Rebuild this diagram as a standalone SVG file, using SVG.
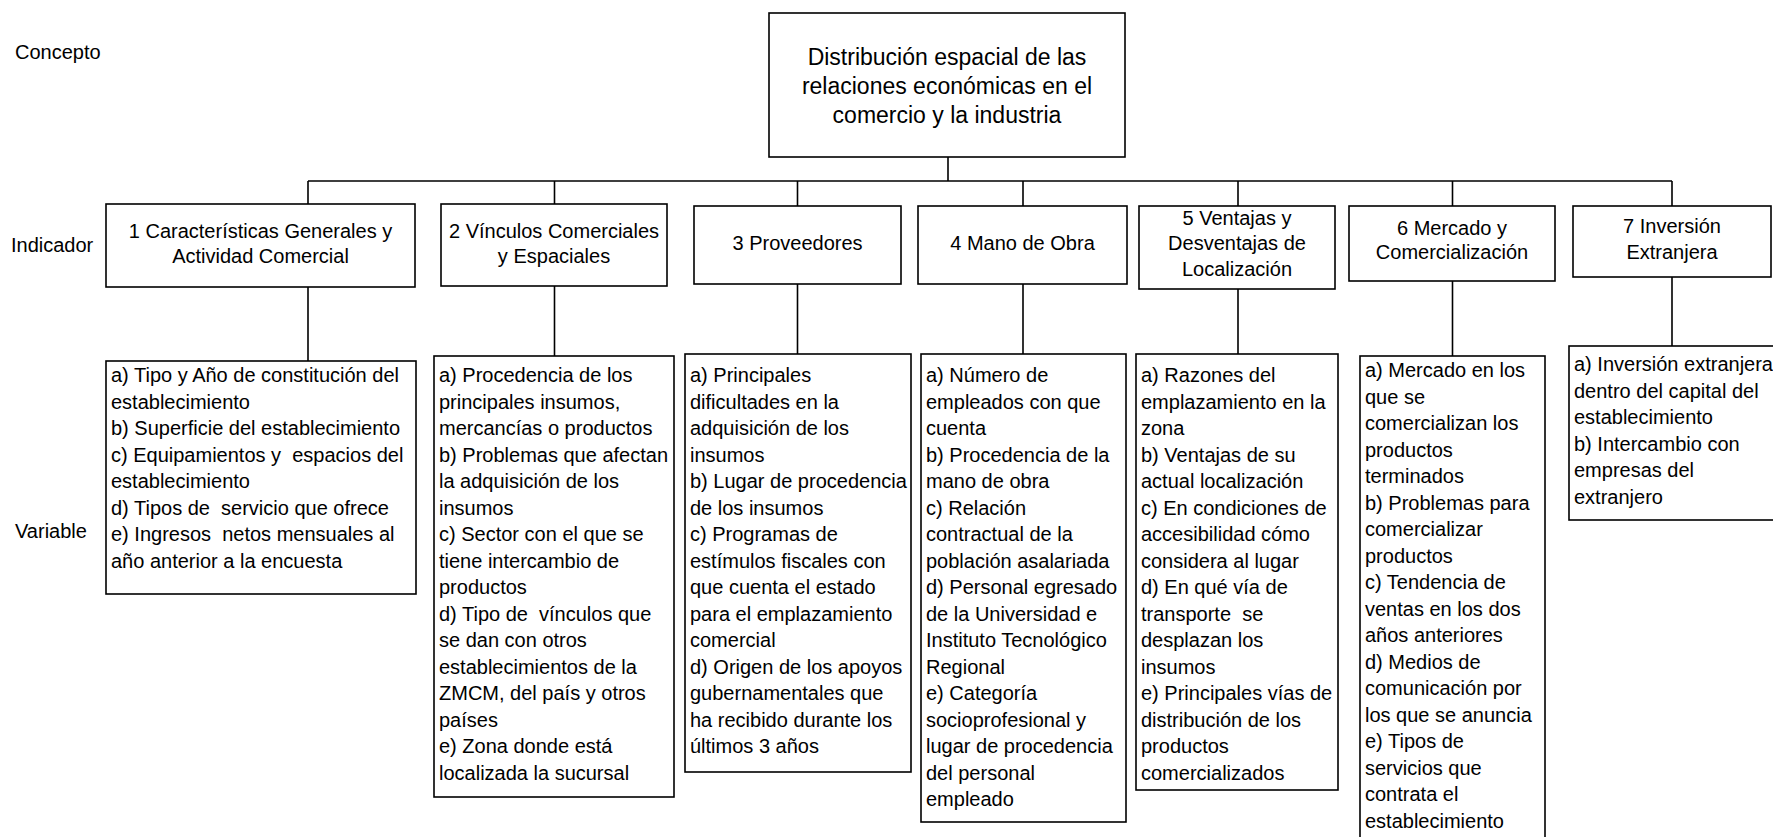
<svg xmlns="http://www.w3.org/2000/svg" width="1773" height="837" viewBox="0 0 1773 837">
<style>
text{font-family:"Liberation Sans",Arial,sans-serif;fill:#000}
.lab{font-size:20px}
.con{font-size:23px;text-anchor:middle}
.ind{font-size:20px;text-anchor:middle}
.var{font-size:20px}
.box{fill:#fff;stroke:#000;stroke-width:1.6}
.ln{stroke:#000;stroke-width:1.6;fill:none}
</style>
<rect width="1773" height="837" fill="#fff"/>
<g id="labels">
<text class="lab" x="15" y="59">Concepto</text>
<text class="lab" x="11" y="252">Indicador</text>
<text class="lab" x="15" y="538">Variable</text>
</g>
<g id="connectors">
<path class="ln" d="M948 157V181M308 181H1672"/>
<path class="ln" d="M308 181V204M554.5 181V204M797.5 181V206M1023 181V206M1238 181V206M1452.5 181V206M1672 181V206"/>
<path class="ln" d="M308 287V361M554.5 286V356M797.5 284V354M1023 284V354M1238 289V354M1452.5 281V356M1672 277V346"/>
</g>
<g id="concepto">
<rect class="box" x="769" y="13" width="356" height="144"/>
<text class="con" x="947"><tspan x="947" y="65">Distribución espacial de las</tspan><tspan x="947" y="94">relaciones económicas en el</tspan><tspan x="947" y="123">comercio y la industria</tspan></text>
</g>
<g id="ind1">
<rect class="box" x="106" y="204" width="309" height="83"/>
<text class="ind"><tspan x="260.5" y="238">1 Características Generales y</tspan><tspan x="260.5" y="263">Actividad Comercial</tspan></text>
</g>
<g id="ind2">
<rect class="box" x="441" y="204" width="226" height="82"/>
<text class="ind"><tspan x="554" y="238">2 Vínculos Comerciales</tspan><tspan x="554" y="263">y Espaciales</tspan></text>
</g>
<g id="ind3">
<rect class="box" x="694" y="206" width="207" height="78"/>
<text class="ind" x="797.5" y="250">3 Proveedores</text>
</g>
<g id="ind4">
<rect class="box" x="918" y="206" width="209" height="78"/>
<text class="ind" x="1022.5" y="250">4 Mano de Obra</text>
</g>
<g id="ind5">
<rect class="box" x="1139" y="206" width="196" height="83"/>
<text class="ind"><tspan x="1237" y="225">5 Ventajas y</tspan><tspan x="1237" y="250">Desventajas de</tspan><tspan x="1237" y="276">Localización</tspan></text>
</g>
<g id="ind6">
<rect class="box" x="1349" y="206" width="206" height="75"/>
<text class="ind"><tspan x="1452" y="235">6 Mercado y</tspan><tspan x="1452" y="259">Comercialización</tspan></text>
</g>
<g id="ind7">
<rect class="box" x="1573" y="206" width="198" height="71"/>
<text class="ind"><tspan x="1672" y="233">7 Inversión</tspan><tspan x="1672" y="259">Extranjera</tspan></text>
</g>
<g id="var1">
<rect class="box" x="106" y="361" width="310" height="233"/>
<text class="var" xml:space="preserve"><tspan x="111" y="382">a) Tipo y Año de constitución del</tspan><tspan x="111" y="408.5">establecimiento</tspan><tspan x="111" y="435">b) Superficie del establecimiento</tspan><tspan x="111" y="461.5">c) Equipamientos y  espacios del</tspan><tspan x="111" y="488">establecimiento</tspan><tspan x="111" y="514.5">d) Tipos de  servicio que ofrece</tspan><tspan x="111" y="541">e) Ingresos  netos mensuales al</tspan><tspan x="111" y="567.5">año anterior a la encuesta</tspan></text>
</g>
<g id="var2">
<rect class="box" x="434" y="356" width="240" height="441"/>
<text class="var" xml:space="preserve"><tspan x="439" y="382">a) Procedencia de los</tspan><tspan x="439" y="408.5">principales insumos,</tspan><tspan x="439" y="435">mercancías o productos</tspan><tspan x="439" y="461.5">b) Problemas que afectan</tspan><tspan x="439" y="488">la adquisición de los</tspan><tspan x="439" y="514.5">insumos</tspan><tspan x="439" y="541">c) Sector con el que se</tspan><tspan x="439" y="567.5">tiene intercambio de</tspan><tspan x="439" y="594">productos</tspan><tspan x="439" y="620.5">d) Tipo de  vínculos que</tspan><tspan x="439" y="647">se dan con otros</tspan><tspan x="439" y="673.5">establecimientos de la</tspan><tspan x="439" y="700">ZMCM, del país y otros</tspan><tspan x="439" y="726.5">países</tspan><tspan x="439" y="753">e) Zona donde está</tspan><tspan x="439" y="779.5">localizada la sucursal</tspan></text>
</g>
<g id="var3">
<rect class="box" x="685" y="354" width="226" height="418"/>
<text class="var"><tspan x="690" y="382">a) Principales</tspan><tspan x="690" y="408.5">dificultades en la</tspan><tspan x="690" y="435">adquisición de los</tspan><tspan x="690" y="461.5">insumos</tspan><tspan x="690" y="488">b) Lugar de procedencia</tspan><tspan x="690" y="514.5">de los insumos</tspan><tspan x="690" y="541">c) Programas de</tspan><tspan x="690" y="567.5">estímulos fiscales con</tspan><tspan x="690" y="594">que cuenta el estado</tspan><tspan x="690" y="620.5">para el emplazamiento</tspan><tspan x="690" y="647">comercial</tspan><tspan x="690" y="673.5">d) Origen de los apoyos</tspan><tspan x="690" y="700">gubernamentales que</tspan><tspan x="690" y="726.5">ha recibido durante los</tspan><tspan x="690" y="753">últimos 3 años</tspan></text>
</g>
<g id="var4">
<rect class="box" x="921" y="354" width="205" height="468"/>
<text class="var"><tspan x="926" y="382">a) Número de</tspan><tspan x="926" y="408.5">empleados con que</tspan><tspan x="926" y="435">cuenta</tspan><tspan x="926" y="461.5">b) Procedencia de la</tspan><tspan x="926" y="488">mano de obra</tspan><tspan x="926" y="514.5">c) Relación</tspan><tspan x="926" y="541">contractual de la</tspan><tspan x="926" y="567.5">población asalariada</tspan><tspan x="926" y="594">d) Personal egresado</tspan><tspan x="926" y="620.5">de la Universidad e</tspan><tspan x="926" y="647">Instituto Tecnológico</tspan><tspan x="926" y="673.5">Regional</tspan><tspan x="926" y="700">e) Categoría</tspan><tspan x="926" y="726.5">socioprofesional y</tspan><tspan x="926" y="753">lugar de procedencia</tspan><tspan x="926" y="779.5">del personal</tspan><tspan x="926" y="806">empleado</tspan></text>
</g>
<g id="var5">
<rect class="box" x="1136" y="354" width="202" height="436"/>
<text class="var" xml:space="preserve"><tspan x="1141" y="382">a) Razones del</tspan><tspan x="1141" y="408.5">emplazamiento en la</tspan><tspan x="1141" y="435">zona</tspan><tspan x="1141" y="461.5">b) Ventajas de su</tspan><tspan x="1141" y="488">actual localización</tspan><tspan x="1141" y="514.5">c) En condiciones de</tspan><tspan x="1141" y="541">accesibilidad cómo</tspan><tspan x="1141" y="567.5">considera al lugar</tspan><tspan x="1141" y="594">d) En qué vía de</tspan><tspan x="1141" y="620.5">transporte  se</tspan><tspan x="1141" y="647">desplazan los</tspan><tspan x="1141" y="673.5">insumos</tspan><tspan x="1141" y="700">e) Principales vías de</tspan><tspan x="1141" y="726.5">distribución de los</tspan><tspan x="1141" y="753">productos</tspan><tspan x="1141" y="779.5">comercializados</tspan></text>
</g>
<g id="var6">
<rect class="box" x="1360" y="356" width="185" height="491"/>
<text class="var"><tspan x="1365" y="377">a) Mercado en los</tspan><tspan x="1365" y="403.5">que se</tspan><tspan x="1365" y="430">comercializan los</tspan><tspan x="1365" y="456.5">productos</tspan><tspan x="1365" y="483">terminados</tspan><tspan x="1365" y="509.5">b) Problemas para</tspan><tspan x="1365" y="536">comercializar</tspan><tspan x="1365" y="562.5">productos</tspan><tspan x="1365" y="589">c) Tendencia de</tspan><tspan x="1365" y="615.5">ventas en los dos</tspan><tspan x="1365" y="642">años anteriores</tspan><tspan x="1365" y="668.5">d) Medios de</tspan><tspan x="1365" y="695">comunicación por</tspan><tspan x="1365" y="721.5">los que se anuncia</tspan><tspan x="1365" y="748">e) Tipos de</tspan><tspan x="1365" y="774.5">servicios que</tspan><tspan x="1365" y="801">contrata el</tspan><tspan x="1365" y="827.5">establecimiento</tspan></text>
</g>
<g id="var7">
<rect class="box" x="1569" y="346" width="210" height="174"/>
<text class="var"><tspan x="1574" y="371">a) Inversión extranjera</tspan><tspan x="1574" y="397.5">dentro del capital del</tspan><tspan x="1574" y="424">establecimiento</tspan><tspan x="1574" y="450.5">b) Intercambio con</tspan><tspan x="1574" y="477">empresas del</tspan><tspan x="1574" y="503.5">extranjero</tspan></text>
</g>
</svg>
